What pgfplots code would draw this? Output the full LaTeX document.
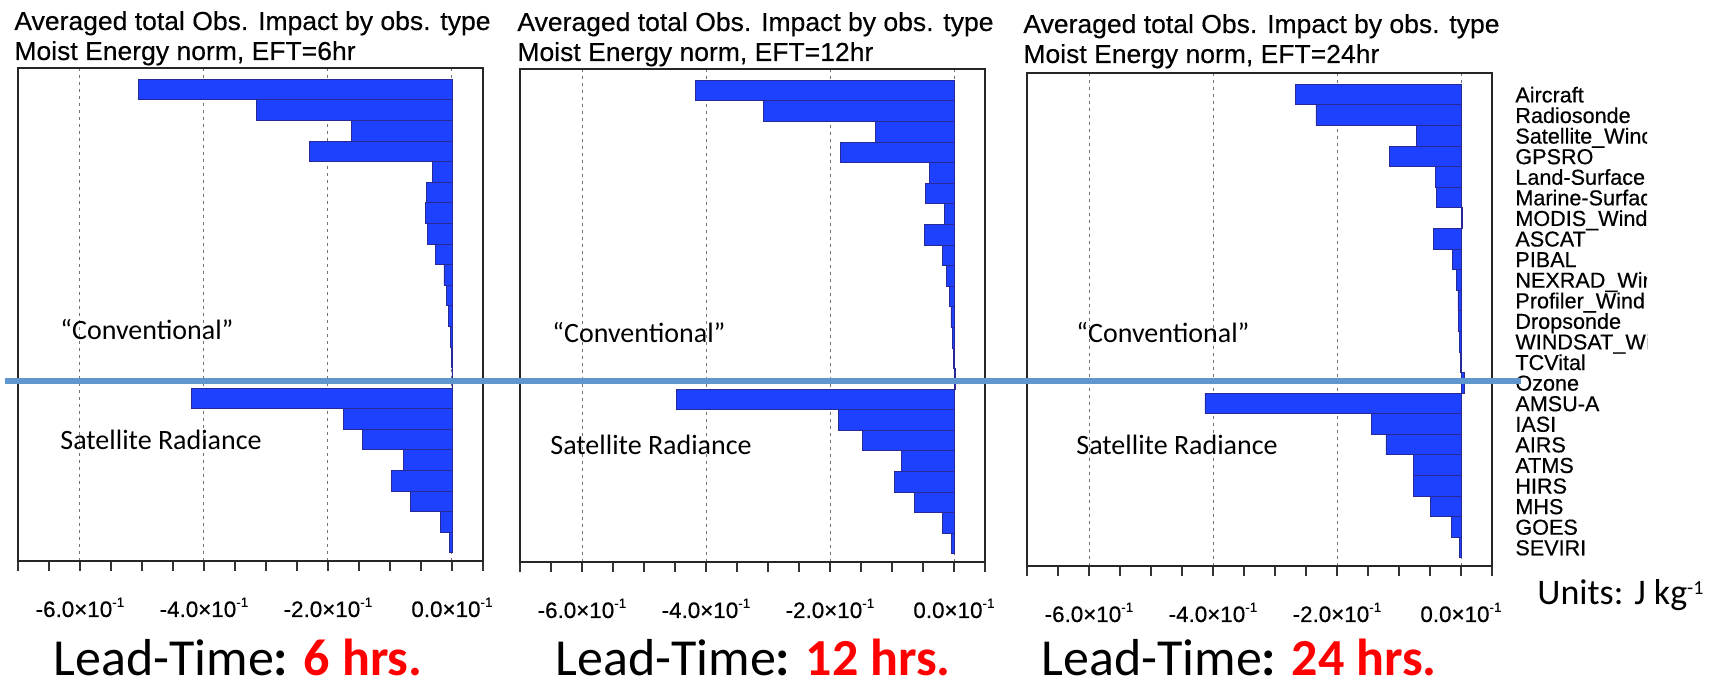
\documentclass[border=0pt]{standalone}
\usepackage{fontspec}
\setmainfont{Liberation Sans}
\newfontfamily\carlito{Carlito}
\newfontfamily\titlefont{Liberation Sans}[FakeStretch=1.02,FakeBold=0.35]
\newfontfamily\nclfont{Liberation Sans}[FakeBold=0.45]
\usepackage{pgfplots}
\pgfplotsset{compat=1.18}
\usepackage{pgfplotstable}

\definecolor{barblue}{RGB}{30,64,255}
\definecolor{baredge}{RGB}{40,40,150}
\definecolor{sepline}{RGB}{95,150,205}
\definecolor{leadred}{RGB}{255,0,0}

% idx: 1 Aircraft ... 23 SEVIRI ; values in J/kg
\pgfplotstableread{
idx h6 h12 h24
1 -0.505 -0.417 -0.267
2 -0.316 -0.308 -0.234
3 -0.162 -0.127 -0.072
4 -0.230 -0.183 -0.116
5 -0.031 -0.039 -0.041
6 -0.041 -0.046 -0.040
7 -0.043 -0.015 0.003
8 -0.039 -0.047 -0.044
9 -0.026 -0.018 -0.014
10 -0.013 -0.012 -0.008
11 -0.009 -0.008 -0.005
12 -0.005 -0.005 -0.004
13 -0.002 -0.003 -0.002
14 -0.001 -0.001 -0.001
15 0.001 0.002 0.006
16 -0.420 -0.448 -0.413
17 -0.175 -0.186 -0.144
18 -0.144 -0.148 -0.121
19 -0.078 -0.085 -0.076
20 -0.097 -0.096 -0.077
21 -0.067 -0.064 -0.050
22 -0.019 -0.018 -0.016
23 -0.004 -0.004 -0.003
}\impact

\newcommand{\tlab}[1]{#1×10\raisebox{0.85ex}{\fontsize{6.8}{6.8}\selectfont -1}}
\newcommand{\tickfont}{\nclfont\fontsize{11.2}{11.2}\selectfont}

\pgfplotsset{
  impactaxis/.style={
    scale only axis, width=232.5pt, height=246.5pt, anchor=south west,
    xmin=-0.7, xmax=0.05, ymin=-0.05, ymax=23.9, y dir=reverse,
    xtick={-0.6,-0.4,-0.2,0},
    xticklabels={\tlab{-6.0},\tlab{-4.0},\tlab{-2.0},\tlab{0.0}},
    minor xtick={-0.7,-0.65,-0.55,-0.5,-0.45,-0.35,-0.3,-0.25,-0.15,-0.1,-0.05,0.05},
    xtick pos=bottom, xtick align=outside,
    major tick length=5pt, minor tick length=5pt,
    x tick style={black!80, line width=0.8pt},
    ytick={1,...,23}, ytick pos=right,
    y tick style={draw=none},
    xmajorgrids,
    major x grid style={black!55, line width=0.5pt, dash pattern=on 1.3pt off 2.2pt},
    axis line style={black!85, line width=1pt},
    xticklabel style={font=\tickfont, anchor=base, yshift=-23pt},
    yticklabels={},
  },
  impactbar/.style={xbar, bar width=1, bar shift=0pt, fill=barblue, draw=baredge, line width=0.4pt},
}

\begin{document}
\begin{tikzpicture}
\useasboundingbox (0,0) rectangle (860.5pt,344pt);

% Panel 1: 6 hr
\begin{axis}[impactaxis, at={(9pt,63.5pt)}]
\addplot[impactbar] table[x=h6, y=idx] {\impact};
\end{axis}

% Panel 2: 12 hr
\begin{axis}[impactaxis, at={(260pt,63pt)}]
\addplot[impactbar] table[x=h12, y=idx] {\impact};
\end{axis}

% Panel 3: 24 hr
\begin{scope}
\clip (0,0) rectangle (823.5pt,344pt);
\begin{axis}[impactaxis, at={(513.5pt,61pt)},
    yticklabel pos=right,
    yticklabels={Aircraft,Radiosonde,Satellite\_Wind,GPSRO,Land-Surface,Marine-Surface,MODIS\_Wind,ASCAT,PIBAL,NEXRAD\_Wind,Profiler\_Wind,Dropsonde,WINDSAT\_Wind,TCVital,Ozone,AMSU-A,IASI,AIRS,ATMS,HIRS,MHS,GOES,SEVIRI},
    yticklabel style={font=\nclfont\fontsize{10.8}{10.8}\selectfont, anchor=base west, inner sep=0pt, xshift=11.5pt, yshift=-3.9pt},
  ]
\addplot[impactbar] table[x=h24, y=idx] {\impact};
\end{axis}
\end{scope}

% Titles
\begin{scope}[every node/.style={anchor=base west, inner sep=0pt, font=\titlefont\fontsize{13}{13}\selectfont}]
\node at (7pt,329pt) {Averaged total Obs. Impact by obs. type};
\node at (7pt,314pt) {Moist Energy norm, EFT=6hr};
\node at (258.5pt,328.5pt) {Averaged total Obs. Impact by obs. type};
\node at (258.5pt,313.5pt) {Moist Energy norm, EFT=12hr};
\node at (511.5pt,327.5pt) {Averaged total Obs. Impact by obs. type};
\node at (511.5pt,312.5pt) {Moist Energy norm, EFT=24hr};
\end{scope}

% Annotations
\begin{scope}[every node/.style={anchor=base west, inner sep=0pt, font=\carlito\fontsize{14}{14}\selectfont}]
\node at (30pt,174pt) {“Conventional”};
\node at (276pt,172.5pt) {“Conventional”};
\node at (538pt,172.5pt) {“Conventional”};
\node at (30pt,119pt) {Satellite Radiance};
\node at (275pt,116.5pt) {Satellite Radiance};
\node at (538pt,116.5pt) {Satellite Radiance};
\end{scope}

\node[anchor=base west, inner sep=0pt, font=\carlito\fontsize{18}{18}\selectfont] at (768.5pt,41.5pt)
  {Units: J kg\raisebox{5pt}{\fontsize{10}{10}\selectfont -1}};

\begin{scope}[every node/.style={anchor=base west, inner sep=0pt, font=\carlito\fontsize{26}{26}\selectfont}]
\node at (26.5pt,6pt) {Lead-Time\textbf{: }\textcolor{leadred}{\bfseries 6 hrs.}};
\node at (277.5pt,6pt) {Lead-Time\textbf{: }\textcolor{leadred}{\bfseries 12 hrs.}};
\node at (520.5pt,6pt) {Lead-Time\textbf{: }\textcolor{leadred}{\bfseries 24 hrs.}};
\end{scope}

% separator between conventional and satellite radiance
\draw[sepline, line width=2.8pt] (2.5pt,153.5pt) -- (760.5pt,153.5pt);
\end{tikzpicture}
\end{document}
